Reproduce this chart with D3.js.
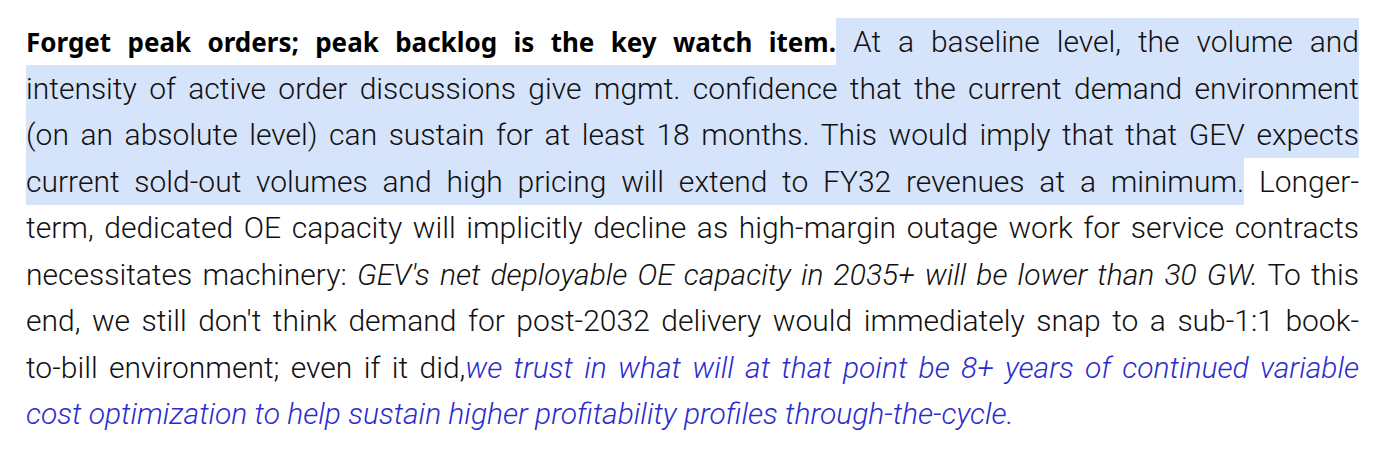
<!DOCTYPE html>
<html><head><meta charset="utf-8">
<script src="https://cdn.jsdelivr.net/npm/d3@7"></script>
<style>
body{margin:0;background:#fff;}
#t{position:absolute;left:26px;top:19px;width:1333px;font-family:Roboto,sans-serif;font-weight:300;font-size:30px;line-height:46.5px;color:#111;}
.ln{text-align:justify;text-align-last:justify;height:46.5px;white-space:nowrap;}
.ln.last{text-align-last:left;}
.b{font-family:"Noto Sans",sans-serif;font-weight:700;font-size:26px;color:#000;}
.h{background:#d5e3fb;padding:6px 0;}
.i{font-style:italic;}
.u{font-style:italic;color:#2b2bd0;}
</style></head><body>
<div id="t"></div>
<script>
// each line is a list of [style, text] segments
var lines = [
  [["b","Forget peak orders; peak backlog is the key watch item."],["h"," At a baseline level, the volume and"]],
  [["h","intensity of active order discussions give mgmt. confidence that the current demand environment"]],
  [["h","(on an absolute level) can sustain for at least 18 months. This would imply that that GEV expects"]],
  [["h","current sold-out volumes and high pricing will extend to FY32 revenues at a minimum."],[""," Longer-"]],
  [["","term, dedicated OE capacity will implicitly decline as high-margin outage work for service contracts"]],
  [["","necessitates machinery: "],["i","GEV's net deployable OE capacity in 2035+ will be lower than 30 GW."],[""," To this"]],
  [["","end, we still don't think demand for post-2032 delivery would immediately snap to a sub-1:1 book-"]],
  [["","to-bill environment; even if it did,"],["u","we trust in what will at that point be 8+ years of continued variable"]],
  [["u","cost optimization to help sustain higher profitability profiles through-the-cycle."]]
]

var row = d3.select("#t").selectAll("div.ln")
    .data(lines)
  .enter().append("div")
    .attr("class", function(d, i){ return i == lines.length - 1 ? "ln last" : "ln" })

row.selectAll("span")
    .data(function(d){ return d })
  .enter().append("span")
    .attr("class", function(s){ return s[0] })
    .text(function(s){ return s[1] })
</script>
</body></html>
